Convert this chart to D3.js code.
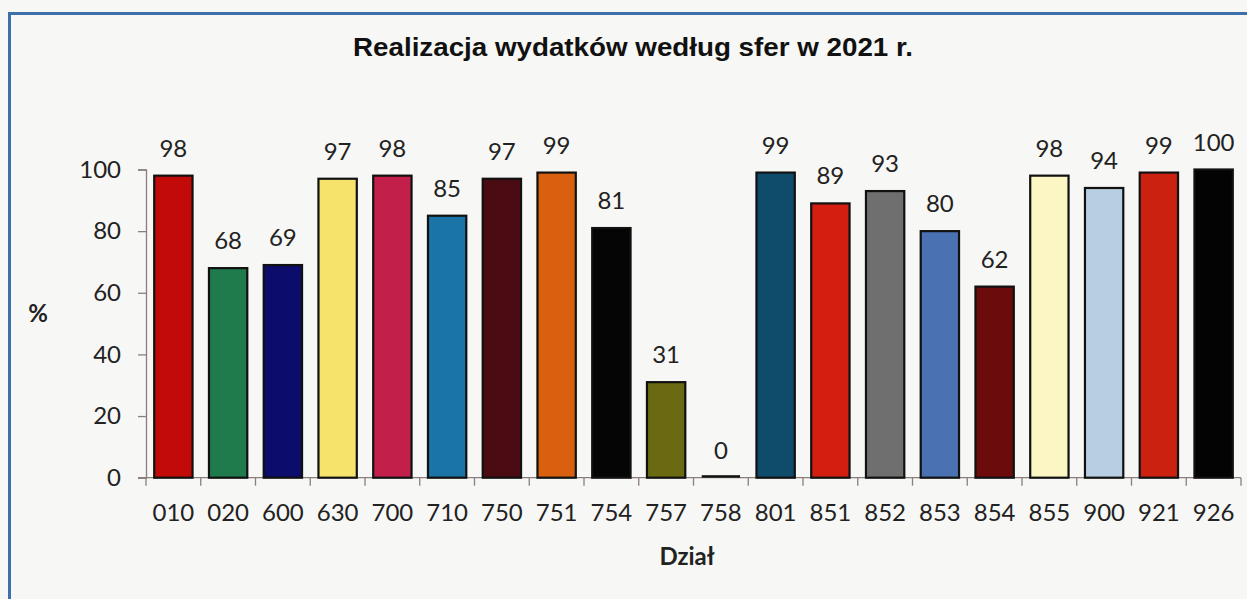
<!DOCTYPE html>
<html><head><meta charset="utf-8">
<script src="https://cdn.jsdelivr.net/npm/d3@7"></script>
<style>html,body{margin:0;padding:0;background:#f7f7f5;}svg{display:block;}</style>
</head><body>
<svg id="c" width="1247" height="599"></svg>
<script>
const categories = ["010","020","600","630","700","710","750","751","754","757","758","801","851","852","853","854","855","900","921","926"];
const values = [98,68,69,97,98,85,97,99,81,31,0,99,89,93,80,62,98,94,99,100];
const colors = ["#c20a08","#1f7a4c","#0c0c6c","#f6e36c","#c2204a","#1a74a6","#4a0c12","#d8600f","#050505","#6b6a12","#111111","#0f4b6b","#d41f10","#6f6f6f","#4a71b2","#6b0b0c","#fcf6c4","#b7cfe2","#cb2110","#030303"];
const yTicks = [0,20,40,60,80,100];
const title = "Realizacja wydatków według sfer w 2021 r.";
const xTitle = "Dział";
const yTitle = "%";

const svg = d3.select("#c");
svg.append("rect").attr("x",0).attr("y",0).attr("width",1247).attr("height",599).attr("fill","#f7f7f5");
// frame
svg.append("path").attr("d","M9.5,610 V13.5 H1260").attr("fill","none").attr("stroke","#3d70aa").attr("stroke-width",3);

const x = d3.scaleBand().domain(categories).range([146,1241]).paddingInner(0.3).paddingOuter(0.15);
const y = d3.scaleLinear().domain([0,100]).range([477.7,169.5]);
const font = "Lato, 'Open Sans', sans-serif";
const fs = 24;

svg.append("text").attr("x",633).attr("y",56).attr("text-anchor","middle")
  .attr("textLength",560).attr("lengthAdjust","spacingAndGlyphs")
  .attr("font-family","'Liberation Sans', Arial, sans-serif").attr("font-weight","bold").attr("font-size",25).attr("fill","#111").text(title);

// y axis
const ya = svg.append("g").attr("transform","translate(146,0)").call(d3.axisLeft(y).tickValues(yTicks).tickSize(8).tickPadding(17));
ya.select(".domain").attr("stroke","#8a7e7e").attr("stroke-width",1.3);
ya.selectAll(".tick line").attr("stroke","#8a7e7e").attr("stroke-width",1.3);
ya.selectAll(".tick text").attr("font-family",font).attr("font-size",fs).attr("fill","#222");

// x axis baseline
svg.append("line").attr("x1",138).attr("x2",1241).attr("y1",y(0)).attr("y2",y(0)).attr("stroke","#8a7e7e").attr("stroke-width",1.3);
const step = x.step(), gap = step - x.bandwidth();
const bounds = categories.map(c => x(c) - gap/2).concat([x(categories[categories.length-1]) + x.bandwidth() + gap/2]);
svg.selectAll(".xt").data(bounds).join("line").attr("x1",d=>d).attr("x2",d=>d).attr("y1",y(0)).attr("y2",y(0)+8)
  .attr("stroke","#8a7e7e").attr("stroke-width",1.3);
svg.selectAll(".xl").data(categories).join("text").attr("x",c=>x(c)+x.bandwidth()/2).attr("y",521)
  .attr("text-anchor","middle").attr("font-family",font).attr("font-size",fs).attr("fill","#222").text(c=>c);

// bars
svg.selectAll(".bar").data(categories).join("rect")
  .attr("x",c=>x(c)).attr("width",x.bandwidth())
  .attr("y",(c,i)=>values[i]===0 ? y(0)-2.5 : y(values[i]))
  .attr("height",(c,i)=>values[i]===0 ? 2.5 : y(0)-y(values[i]))
  .attr("fill",(c,i)=>colors[i]).attr("stroke","#111").attr("stroke-width",(c,i)=>values[i]===0?0:2.2);

// labels
svg.selectAll(".vl").data(categories).join("text")
  .attr("x",c=>x(c)+x.bandwidth()/2).attr("y",(c,i)=>y(values[i])-19)
  .attr("text-anchor","middle").attr("font-family",font).attr("font-size",fs).attr("fill","#222").text((c,i)=>values[i]);

svg.append("text").attr("x",38).attr("y",322).attr("text-anchor","middle").attr("font-family",font).attr("font-weight","bold").attr("font-size",fs).attr("fill","#222").text(yTitle);
svg.append("text").attr("x",687).attr("y",565).attr("text-anchor","middle").attr("font-family",font).attr("font-weight","bold").attr("font-size",fs).attr("fill","#222").text(xTitle);
</script>
</body></html>
